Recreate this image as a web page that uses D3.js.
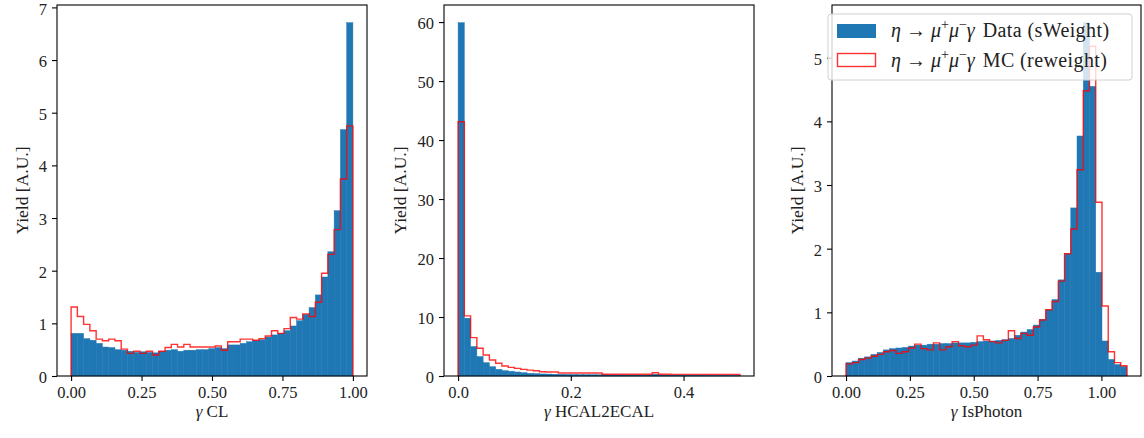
<!DOCTYPE html>
<html>
<head>
<meta charset="utf-8">
<script src="https://cdn.jsdelivr.net/npm/d3@7"></script>
<style>
  html, body { margin: 0; padding: 0; background: #fff; }
  svg { display: block; }
  text { font-family: "Liberation Serif", "DejaVu Serif", serif; fill: #222; }
</style>
</head>
<body>
<div id="chart"></div>
<script>
// ---------- data (45 bins each) ----------
const clData = [0.81,0.81,0.71,0.68,0.62,0.55,0.54,0.50,0.49,0.47,0.45,0.46,0.45,0.44,0.47,0.49,0.50,0.47,0.49,0.49,0.50,0.50,0.52,0.54,0.52,0.59,0.59,0.62,0.65,0.68,0.69,0.74,0.78,0.81,0.86,0.95,1.05,1.17,1.30,1.54,1.88,2.36,3.14,4.68,6.71];
const clMC   = [1.31,1.13,0.98,0.86,0.70,0.67,0.70,0.67,0.51,0.43,0.47,0.43,0.47,0.40,0.47,0.54,0.60,0.55,0.60,0.55,0.55,0.55,0.55,0.57,0.49,0.65,0.65,0.70,0.70,0.68,0.71,0.76,0.86,0.81,0.90,1.11,1.08,1.18,1.13,1.40,1.95,2.31,2.78,3.74,4.75];

const hcData = [59.9,9.8,5.0,3.3,2.26,1.58,1.13,0.9,0.8,0.68,0.56,0.45,0.40,0.35,0.33,0.30,0.28,0.26,0.25,0.24,0.23,0.22,0.21,0.20,0.18,0.17,0.16,0.15,0.15,0.14,0.14,0.30,0.13,0.12,0.12,0.11,0.11,0.10,0.10,0.10,0.09,0.09,0.09,0.08,0.08];
const hcMC   = [43.1,10.2,6.5,4.7,3.56,2.7,2.15,1.7,1.47,1.3,1.13,1.0,0.9,0.73,0.68,0.68,0.5,0.5,0.5,0.5,0.5,0.5,0.5,0.3,0.3,0.3,0.3,0.3,0.3,0.3,0.3,0.55,0.3,0.3,0.28,0.28,0.28,0.28,0.28,0.28,0.28,0.28,0.28,0.28,0.28];

const ipData = [0.21,0.235,0.28,0.30,0.34,0.37,0.41,0.43,0.44,0.45,0.47,0.485,0.485,0.50,0.50,0.51,0.51,0.52,0.52,0.52,0.53,0.54,0.55,0.55,0.56,0.57,0.59,0.64,0.69,0.73,0.80,0.89,1.04,1.20,1.51,1.92,2.64,3.77,5.55,4.55,1.63,0.55,0.26,0.18,0.15];
const ipMC   = [0.19,0.21,0.26,0.28,0.31,0.34,0.38,0.40,0.355,0.38,0.44,0.50,0.43,0.41,0.52,0.41,0.46,0.54,0.475,0.46,0.485,0.63,0.57,0.54,0.52,0.56,0.71,0.59,0.67,0.64,0.77,0.88,1.04,1.17,1.49,1.92,2.31,3.24,4.48,5.18,2.73,1.10,0.38,0.21,0.16];

const xLabels = ["CL", "HCAL2ECAL", "IsPhoton"];
const xRanges = [[0, 1], [0, 0.5], [0, 1.1]];
const xTicks = [[0, 0.25, 0.5, 0.75, 1.0], [0, 0.2, 0.4], [0, 0.25, 0.5, 0.75, 1.0]];
const xTickFormats = [".2f", ".1f", ".2f"];
const yTicks = [[0,1,2,3,4,5,6,7], [0,10,20,30,40,50,60], [0,1,2,3,4,5]];
const yLabel = "Yield [A.U.]";
const legendLabels = ["Data (sWeight)", "MC (reweight)"];

// ---------- layout ----------
const W = 1144, H = 438;
const frames = [{l: 57, r: 367}, {l: 444, r: 754}, {l: 832, r: 1141}];
const topY = 5, bottomY = 376;
const blue = "#1f77b4", red = "#ff0000";

const svg = d3.select("#chart").append("svg").attr("width", W).attr("height", H);

const panels = [
  {data: clData, mc: clMC},
  {data: hcData, mc: hcMC},
  {data: ipData, mc: ipMC}
];

panels.forEach((p, k) => {
  const [lo, hi] = xRanges[k];
  const n = p.data.length;
  const bw = (hi - lo) / n;
  const m = (hi - lo) * 0.05;
  const x = d3.scaleLinear().domain([lo - m, hi + m]).range([frames[k].l, frames[k].r]);
  const ymax = d3.max(p.data.concat(p.mc)) * 1.05;
  const y = d3.scaleLinear().domain([0, ymax]).range([bottomY, topY]);
  const g = svg.append("g");

  // blue filled bars
  g.selectAll("rect.bar").data(p.data).join("rect")
    .attr("class", "bar")
    .attr("x", (d, i) => x(lo + i * bw))
    .attr("width", (d, i) => x(lo + (i + 1) * bw) - x(lo + i * bw))
    .attr("y", d => y(d))
    .attr("height", d => y(0) - y(d))
    .attr("fill", blue)
    .attr("stroke", blue).attr("stroke-width", 0.45);

  // red step outline
  const pts = [[lo, 0]];
  p.mc.forEach((v, i) => { pts.push([lo + i * bw, v]); pts.push([lo + (i + 1) * bw, v]); });
  pts.push([hi, 0]);
  g.append("path")
    .attr("d", d3.line().x(d => x(d[0])).y(d => y(d[1]))(pts))
    .attr("fill", "none").attr("stroke", red).attr("stroke-opacity", 0.8)
    .attr("stroke-width", 1.4).attr("stroke-linejoin", "miter");

  // axes
  const xa = d3.axisBottom(x).tickValues(xTicks[k]).tickFormat(d3.format(xTickFormats[k]))
    .tickSizeInner(5).tickSizeOuter(0).tickPadding(5);
  const ya = d3.axisLeft(y).tickValues(yTicks[k]).tickFormat(d3.format("d"))
    .tickSizeInner(5).tickSizeOuter(0).tickPadding(5);
  const gx = svg.append("g").attr("transform", `translate(0,${bottomY})`).call(xa);
  const gy = svg.append("g").attr("transform", `translate(${frames[k].l},0)`).call(ya);
  [gx, gy].forEach(ax => {
    ax.select(".domain").remove();
    ax.selectAll("line").attr("stroke", "#000").attr("stroke-width", 1.1);
    ax.selectAll("text").attr("font-size", 16.5).attr("fill", "#222")
      .style("font-family", '"Liberation Serif", serif');
  });
  gy.selectAll("text").attr("dy", "0.4em");

  // frame
  svg.append("rect").attr("x", frames[k].l).attr("y", topY)
    .attr("width", frames[k].r - frames[k].l).attr("height", bottomY - topY)
    .attr("fill", "none").attr("stroke", "#000").attr("stroke-width", 1.1);

  // x label
  const xl = svg.append("text")
    .attr("x", (frames[k].l + frames[k].r) / 2).attr("y", 417)
    .attr("text-anchor", "middle").attr("font-size", 17);
  xl.append("tspan").attr("font-style", "italic").text("γ");
  xl.append("tspan").text(" " + xLabels[k]);

  // y label
  const ylx = frames[k].l - (k === 1 ? 38 : 29);
  svg.append("text")
    .attr("transform", `translate(${ylx},${(topY + bottomY) / 2}) rotate(-90)`)
    .attr("text-anchor", "middle").attr("font-size", 17.5)
    .text(yLabel);
});

// ---------- legend ----------
const lg = svg.append("g");
lg.append("rect").attr("x", 828).attr("y", 14).attr("width", 304).attr("height", 66)
  .attr("rx", 3).attr("fill", "#fff").attr("fill-opacity", 0.8)
  .attr("stroke", "#d0d0d0").attr("stroke-width", 1);
lg.append("rect").attr("x", 837).attr("y", 24).attr("width", 39).attr("height", 14).attr("fill", blue);
lg.append("rect").attr("x", 837.5).attr("y", 53.5).attr("width", 38).attr("height", 13)
  .attr("fill", "none").attr("stroke", red).attr("stroke-opacity", 0.8).attr("stroke-width", 1.4);
legendLabels.forEach((lab, i) => {
  const t = lg.append("text").attr("x", 891).attr("y", 37 + i * 29.5).attr("font-size", 20);
  t.append("tspan").attr("font-style", "italic").text("η");
  t.append("tspan").attr("dx", 5).text("→");
  t.append("tspan").attr("dx", 5).attr("font-style", "italic").text("μ");
  t.append("tspan").attr("font-size", 14).attr("dy", -8).text("+");
  t.append("tspan").attr("font-style", "italic").attr("dy", 8).text("μ");
  t.append("tspan").attr("font-size", 14).attr("dy", -8).text("−");
  t.append("tspan").attr("font-style", "italic").attr("dy", 8).text("γ");
  t.append("tspan").attr("dx", 8).attr("letter-spacing", 0.4).text(lab);
});
</script>
</body>
</html>
